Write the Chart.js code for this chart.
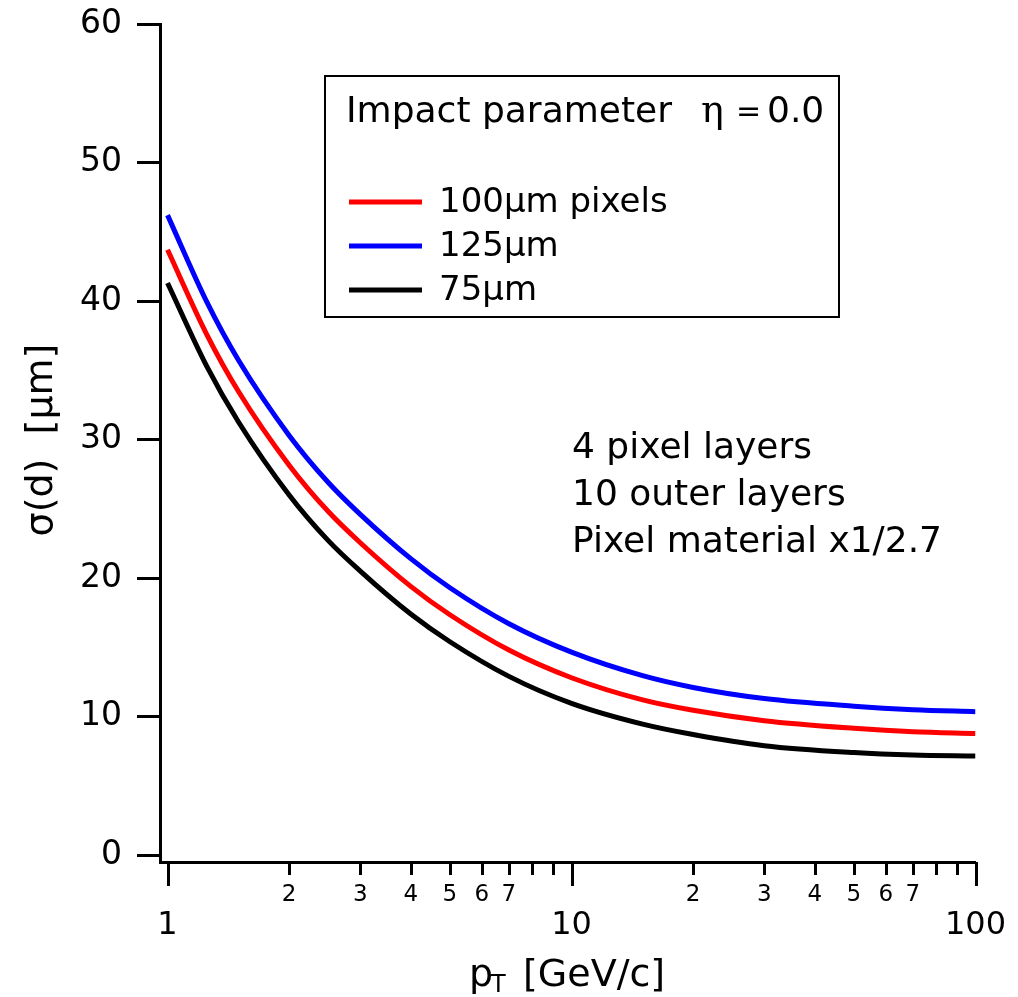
<!DOCTYPE html>
<html>
<head>
<meta charset="utf-8">
<script src="https://cdn.jsdelivr.net/npm/chart.js@4.4.1/dist/chart.umd.min.js"></script>
<style>
  html, body { margin: 0; padding: 0; background: #fff; }
</style>
</head>
<body>
<canvas id="myChart" width="1018" height="997"></canvas>
<script>
// transverse momentum points (GeV/c)
const pT = [1, 1.25, 1.5, 2, 2.5, 3, 4, 5, 7, 10, 15, 20, 30, 50, 70, 100];

// impact parameter resolution sigma(d) in um, one array per pixel pitch
const sigma100 = [43.7, 37.6, 33.45, 28.15, 24.8, 22.55, 19.4, 17.35, 14.8, 12.8, 11.2, 10.45, 9.7, 9.15, 8.9, 8.78];
const sigma125 = [46.2, 39.95, 35.7, 30.3, 26.9, 24.6, 21.4, 19.3, 16.7, 14.65, 12.95, 12.1, 11.3, 10.75, 10.5, 10.35];
const sigma75 = [41.3, 35.3, 31.25, 26.0, 22.7, 20.5, 17.4, 15.4, 12.9, 10.95, 9.45, 8.7, 7.9, 7.4, 7.22, 7.15];

const seriesLabels = ['100µm pixels', '125µm', '75µm'];
const seriesColors = ['#ff0000', '#0000ff', '#000000'];

const yTicks = [0, 10, 20, 30, 40, 50, 60];
const xMajorTicks = [1, 10, 100];
const xMinorTicks = [2, 3, 4, 5, 6, 7, 8, 9, 20, 30, 40, 50, 60, 70, 80, 90];
const xMinorLabels = [2, 3, 4, 5, 6, 7, 20, 30, 40, 50, 60, 70];

const infoLines = ['4 pixel layers', '10 outer layers', 'Pixel material x1/2.7'];

const FONT = "'DejaVu Sans', sans-serif";

function toPoints(ys) {
    return pT.map((x, i) => ({ x: x, y: ys[i] }));
}

const allSeries = [sigma100, sigma125, sigma75];

const datasets = allSeries.map((ys, i) => ({
    label: seriesLabels[i],
    data: toPoints(ys),
    borderColor: seriesColors[i],
    borderWidth: 5,
    pointRadius: 0,
    fill: false,
    cubicInterpolationMode: 'monotone'
}));

// log axis ticks, labels, axis titles, legend box and notes
const decorations = {
    id: 'decorations',
    afterDraw(chart) {
        const { ctx, chartArea } = chart;
        const xs = chart.scales.x;
        const bottom = chartArea.bottom;

        ctx.save();
        ctx.strokeStyle = '#000';
        ctx.fillStyle = '#000';
        ctx.lineWidth = 3;

        // x ticks
        for (const v of xMajorTicks.concat(xMinorTicks)) {
            const px = Math.round(xs.getPixelForValue(v)) + 0.5;
            const len = xMajorTicks.includes(v) ? 24 : 13;
            ctx.beginPath();
            ctx.moveTo(px, bottom);
            ctx.lineTo(px, bottom + len);
            ctx.stroke();
        }

        ctx.textAlign = 'center';
        ctx.textBaseline = 'alphabetic';
        ctx.font = '23px ' + FONT;
        for (const v of xMinorLabels) {
            ctx.fillText(String(v % 10 === 0 ? v / 10 : v), xs.getPixelForValue(v), 901);
        }
        ctx.font = '32px ' + FONT;
        for (const v of xMajorTicks) {
            ctx.fillText(String(v), xs.getPixelForValue(v), 934);
        }

        // x title with subscript
        ctx.textAlign = 'left';
        ctx.font = '38px ' + FONT;
        ctx.fillText('p', 469, 986);
        ctx.font = '24px ' + FONT;
        ctx.fillText('T', 491, 992);
        ctx.font = '38px ' + FONT;
        ctx.fillText('[GeV/c]', 523, 986);

        // y title
        ctx.save();
        ctx.translate(52, 440);
        ctx.rotate(-Math.PI / 2);
        ctx.textAlign = 'center';
        ctx.font = '38px ' + FONT;
        ctx.fillText('σ(d)  [µm]', 0, 0);
        ctx.restore();

        // legend box
        ctx.lineWidth = 2;
        ctx.strokeRect(325, 76, 514, 241);
        ctx.font = '36px ' + FONT;
        ctx.fillText('Impact parameter', 346, 122);
        ctx.font = "38px 'DejaVu Serif', serif";
        ctx.fillText('η', 701, 122);
        ctx.font = '30px ' + FONT;
        ctx.fillText('=', 736, 121);
        ctx.font = '36px ' + FONT;
        ctx.fillText('0.0', 767, 122);

        const rows = [202, 246, 290];
        ctx.font = '34px ' + FONT;
        ctx.textBaseline = 'middle';
        chart.data.datasets.forEach((ds, i) => {
            ctx.strokeStyle = ds.borderColor;
            ctx.lineWidth = 5;
            ctx.beginPath();
            ctx.moveTo(349, rows[i]);
            ctx.lineTo(422, rows[i]);
            ctx.stroke();
            ctx.fillText(ds.label, 439, rows[i] + 1);
        });

        // run conditions
        ctx.textBaseline = 'alphabetic';
        ctx.font = '36px ' + FONT;
        infoLines.forEach((t, i) => {
            ctx.fillText(t, 572, 458 + i * 47);
        });

        ctx.restore();
    }
};

new Chart(document.getElementById('myChart'), {
    type: 'line',
    data: { datasets: datasets },
    options: {
        responsive: false,
        animation: false,
        layout: { padding: { top: 24, right: 42.5, left: 0, bottom: 0 } },
        plugins: {
            legend: { display: false },
            tooltip: { enabled: false }
        },
        scales: {
            x: {
                type: 'logarithmic',
                position: 'bottom',
                min: 0.958,
                max: 100,
                grid: { display: false, drawTicks: false },
                border: { display: true, color: '#000', width: 3 },
                ticks: { display: false },
                afterFit: (s) => {
                    s.height = 135;
                    s.paddingLeft = 0;
                    s.paddingRight = 0;
                }
            },
            y: {
                type: 'linear',
                position: 'left',
                min: -0.5,
                max: 60,
                afterBuildTicks: (s) => { s.ticks = yTicks.map(v => ({ value: v })); },
                grid: {
                    display: true,
                    drawOnChartArea: false,
                    drawTicks: true,
                    tickLength: 23,
                    tickWidth: 3,
                    tickColor: '#000'
                },
                border: { display: true, color: '#000', width: 3 },
                ticks: {
                    padding: 15,
                    color: '#000',
                    font: { family: FONT, size: 33 }
                },
                afterFit: (s) => {
                    s.width = 160;
                    s.paddingTop = 0;
                    s.paddingBottom = 0;
                }
            }
        }
    },
    plugins: [decorations]
});
</script>
</body>
</html>
